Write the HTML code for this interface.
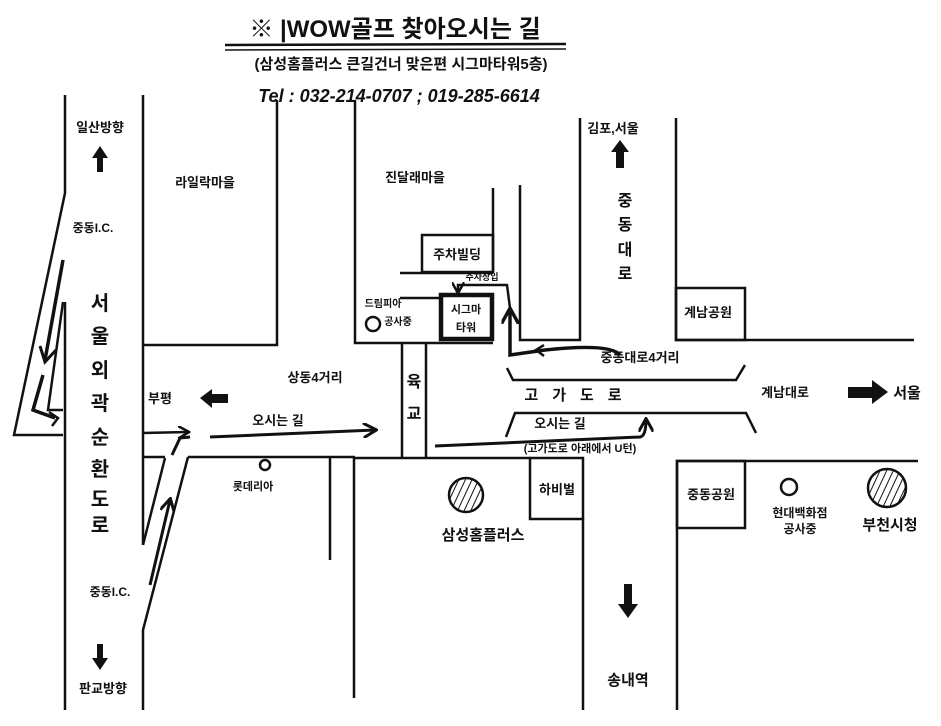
<!DOCTYPE html>
<html><head><meta charset="utf-8"><style>
html,body{margin:0;padding:0;background:#fff;width:941px;height:726px;overflow:hidden}
svg text{font-family:"Liberation Sans","Noto Sans CJK KR","NanumGothic",sans-serif;font-weight:bold;fill:#111}
</style></head><body>
<svg width="941" height="726" viewBox="0 0 941 726" xmlns="http://www.w3.org/2000/svg">
<defs>
<pattern id="h" width="6" height="6" patternUnits="userSpaceOnUse" patternTransform="rotate(25)"><line x1="0" y1="0" x2="0" y2="6" stroke="#111" stroke-width="2"/></pattern>
<marker id="a" viewBox="0 0 10 10" refX="8" refY="5" markerWidth="5" markerHeight="5" orient="auto"><path d="M0,0 L9,5 L0,10" fill="none" stroke="#111" stroke-width="2"/></marker>
</defs>
<g stroke="#111" stroke-width="2.5" fill="none">
<line x1="225" y1="45" x2="566" y2="44"/><line x1="225" y1="50" x2="566" y2="49" stroke-width="1.5"/>
<polyline points="65,95 65,193 14,435 63,435"/>
<polyline points="65,302 65,710"/>
<polyline points="63,302 48,410 63,410"/>
<polyline points="143,95 143,545"/>
<polyline points="188,457 143,630 143,710"/>
<line x1="165" y1="458" x2="143" y2="545"/>
<polyline points="63,260 45,360" stroke-width="3.5"/>
<polyline points="40,346 45,362 56,350" stroke-width="3"/>
<polyline points="43,375 33,410 55,418" stroke-width="3.5"/>
<polyline points="49,412 58,418 52,426" stroke-width="2.5"/>
<polyline points="277,100 277,345 143,345"/>
<line x1="143" y1="433" x2="188" y2="432" marker-end="url(#a)"/>
<line x1="143" y1="457" x2="165" y2="457"/>
<line x1="188" y1="457" x2="355" y2="457"/>
<polyline points="330,457 330,560"/>
<polyline points="355,100 355,343 493,343"/>
<line x1="402" y1="343" x2="402" y2="458"/><line x1="426" y1="343" x2="426" y2="458"/>
<polyline points="493,188 493,272"/>
<rect x="422" y="235" width="71" height="37"/>
<line x1="400" y1="273" x2="493" y2="273"/>
<line x1="400" y1="298" x2="440" y2="298"/>
<rect x="441" y="295" width="51" height="44" stroke-width="4.5"/>
<polyline points="520,185 520,340 580,340 580,118"/>
<polyline points="676,118 676,340 914,340"/>
<rect x="676" y="288" width="69" height="52"/>
<polyline points="507,368 513,380 736,380 745,365"/>
<polyline points="506,437 515,413 746,413 756,433"/>
<polyline points="354,698 354,458 530,458"/>
<rect x="530" y="458" width="53" height="61"/>
<line x1="583" y1="519" x2="583" y2="710"/>
<polyline points="677,710 677,461 918,461"/>
<rect x="677" y="461" width="68" height="67"/>
<line x1="210" y1="437" x2="375" y2="430" marker-end="url(#a)" stroke-width="3"/>
<polyline points="172,455 180,438 190,437" stroke-width="3"/>
<polyline points="150,585 170,500" stroke-width="3" marker-end="url(#a)"/>
<path d="M435,446 L640,437 Q646,436 646,420" stroke-width="3" marker-end="url(#a)"/>
<path d="M620,355 Q610,343 545,350 L510,355 L510,310" stroke-width="3.5" marker-end="url(#a)"/>
<path d="M544,345 L536,350 L544,356" stroke-width="2.5"/>
<polyline points="510,308 507,285 458,285 458,292" stroke-width="2.5" marker-end="url(#a)"/>
<circle cx="373" cy="324" r="7"/>
<circle cx="265" cy="465" r="5"/>
<circle cx="789" cy="487" r="8"/>
<circle cx="466" cy="495" r="17" fill="url(#h)"/>
<circle cx="887" cy="488" r="19" fill="url(#h)"/>
</g>
<g fill="#111">
<polygon points="100,146 92,158 97,158 97,172 103,172 103,158 108,158"/>
<polygon points="100,670 92,658 97,658 97,644 103,644 103,658 108,658"/>
<polygon points="200,398 212,389 212,394 228,394 228,403 212,403 212,408"/>
<polygon points="620,140 611,152 616,152 616,168 624,168 624,152 629,152"/>
<polygon points="628,618 618,604 624,604 624,584 632,584 632,604 638,604"/>
<polygon points="888,392 872,380 872,387 848,387 848,398 872,398 872,404"/>
</g>
<g font-size="13">
<text x="395" y="37" font-size="24" text-anchor="middle">※ |WOW골프 찾아오시는 길</text>
<text x="401" y="69" text-anchor="middle" font-size="15">(삼성홈플러스 큰길건너 맞은편 시그마타워5층)</text>
<text x="399" y="102" font-style="italic" text-anchor="middle" font-size="18">Tel : 032-214-0707 ; 019-285-6614</text>
<text x="100" y="132" text-anchor="middle">일산방향</text>
<text x="93" y="232" text-anchor="middle" font-size="12">중동I.C.</text>
<text x="110" y="596" text-anchor="middle" font-size="12">중동I.C.</text>
<text x="103" y="693" text-anchor="middle">판교방향</text>
<g font-size="20" text-anchor="middle"><text x="100" y="310">서</text><text x="100" y="343">울</text><text x="100" y="377">외</text><text x="100" y="410">곽</text><text x="100" y="444">순</text><text x="100" y="476">환</text><text x="100" y="506">도</text><text x="100" y="532">로</text></g>
<text x="205" y="187" text-anchor="middle">라일락마을</text>
<text x="415" y="182" text-anchor="middle">진달래마을</text>
<text x="160" y="403" text-anchor="middle">부평</text>
<text x="315" y="382" text-anchor="middle">상동4거리</text>
<text x="278" y="425" text-anchor="middle">오시는 길</text>
<text x="253" y="490" text-anchor="middle" font-size="11">롯데리아</text>
<text x="414" y="387" text-anchor="middle" font-size="16">육</text>
<text x="414" y="419" text-anchor="middle" font-size="16">교</text>
<text x="457" y="259" text-anchor="middle">주차빌딩</text>
<text x="482" y="280" text-anchor="middle" font-size="9">주차장입</text>
<text x="466" y="313" text-anchor="middle" font-size="11">시그마</text>
<text x="466" y="331" text-anchor="middle" font-size="11">타워</text>
<text x="383" y="307" text-anchor="middle" font-size="10">드림피아</text>
<text x="398" y="325" text-anchor="middle" font-size="10">공사중</text>
<text x="613" y="133" text-anchor="middle">김포,서울</text>
<g font-size="16" text-anchor="middle"><text x="625" y="206">중</text><text x="625" y="230">동</text><text x="625" y="255">대</text><text x="625" y="279">로</text></g>
<text x="708" y="317" text-anchor="middle">계남공원</text>
<text x="640" y="362" text-anchor="middle">중동대로4거리</text>
<text x="580" y="400" text-anchor="middle" font-size="15" font-weight="normal" letter-spacing="14">고가도로</text>
<text x="785" y="397" text-anchor="middle">계남대로</text>
<text x="907" y="398" text-anchor="middle" font-size="15">서울</text>
<text x="560" y="428" text-anchor="middle">오시는 길</text>
<text x="580" y="452" text-anchor="middle" font-size="11">(고가도로 아래에서 U턴)</text>
<text x="557" y="494" text-anchor="middle">하비벌</text>
<text x="483" y="540" text-anchor="middle" font-size="15">삼성홈플러스</text>
<text x="711" y="499" text-anchor="middle">중동공원</text>
<text x="800" y="517" text-anchor="middle" font-size="12">현대백화점</text>
<text x="800" y="533" text-anchor="middle" font-size="12">공사중</text>
<text x="890" y="530" text-anchor="middle" font-size="15">부천시청</text>
<text x="628" y="685" text-anchor="middle" font-size="15">송내역</text>
</g>
</svg>
</body></html>
